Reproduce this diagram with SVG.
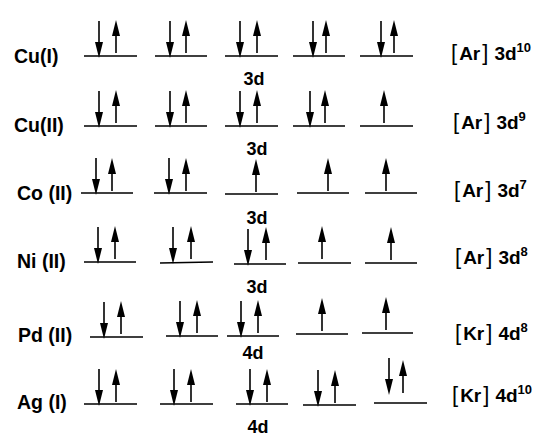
<svg xmlns="http://www.w3.org/2000/svg" xmlns:xlink="http://www.w3.org/1999/xlink" width="543" height="437" viewBox="0 0 543 437">
<style>
text{font-family:"Liberation Sans",Arial,sans-serif;font-weight:bold;fill:#000}
.lbl{font-size:19.5px}
.sub{font-size:18px;text-anchor:middle}
.cfg{font-size:19px}
.br{font-weight:normal;font-size:22px}
.sup{font-size:13px}
.lv{stroke:#000;stroke-width:1.6;fill:none}
</style>
<defs>
<g id="dn"><line x1="0" y1="0" x2="0" y2="24" stroke="#000" stroke-width="1.6"/><polygon points="-4,21 4,21 0,37" fill="#000"/></g>
<g id="up"><line x1="0" y1="12" x2="0" y2="33" stroke="#000" stroke-width="1.6"/><polygon points="0,0 -4,16 4,16" fill="#000"/></g>
</defs>
<rect width="543" height="437" fill="#fff"/>

<g id="cu1">
<text class="lbl" x="14" y="63">Cu(I)</text>
<path class="lv" d="M84 56H137M155 56H207M225 56H278M293 56H345M360 56H413"/>
<use xlink:href="#dn" x="99" y="21"/><use xlink:href="#up" x="116" y="20"/>
<use xlink:href="#dn" x="170" y="21"/><use xlink:href="#up" x="186" y="20"/>
<use xlink:href="#dn" x="240" y="21"/><use xlink:href="#up" x="257" y="20"/>
<use xlink:href="#dn" x="313" y="21"/><use xlink:href="#up" x="326" y="20"/>
<use xlink:href="#dn" x="381" y="21"/><use xlink:href="#up" x="394" y="20"/>
<text class="sub" x="254" y="85">3d</text>
<text class="cfg" x="451" y="60"><tspan class="br">[</tspan><tspan dx="2">Ar</tspan><tspan class="br" dx="2">]</tspan><tspan dx="6">3d</tspan><tspan class="sup" dy="-8">10</tspan></text>
</g>

<g id="cu2">
<text class="lbl" x="14" y="132">Cu(II)</text>
<path class="lv" d="M84 126H137M155 126H207M225 126H278M293 126H345M360 126H413"/>
<use xlink:href="#dn" x="99" y="91"/><use xlink:href="#up" x="116" y="90"/>
<use xlink:href="#dn" x="170" y="91"/><use xlink:href="#up" x="186" y="90"/>
<use xlink:href="#dn" x="240" y="91"/><use xlink:href="#up" x="257" y="90"/>
<use xlink:href="#dn" x="310" y="91"/><use xlink:href="#up" x="325" y="90"/>
<use xlink:href="#up" x="384" y="90"/>
<text class="sub" x="257" y="155">3d</text>
<text class="cfg" x="453" y="129"><tspan class="br">[</tspan><tspan dx="2">Ar</tspan><tspan class="br" dx="2">]</tspan><tspan dx="6">3d</tspan><tspan class="sup" dy="-8">9</tspan></text>
</g>

<g id="co2">
<text class="lbl" x="17" y="200">Co (II)</text>
<path class="lv" d="M81 193H133M154 193H207M225 194H278M297 193H349M365 193H417"/>
<use xlink:href="#dn" x="96" y="158"/><use xlink:href="#up" x="112" y="158"/>
<use xlink:href="#dn" x="169" y="158"/><use xlink:href="#up" x="186" y="158"/>
<use xlink:href="#up" x="256" y="159"/>
<use xlink:href="#up" x="328" y="158"/>
<use xlink:href="#up" x="386" y="158"/>
<text class="sub" x="257" y="224">3d</text>
<text class="cfg" x="454" y="197"><tspan class="br">[</tspan><tspan dx="2">Ar</tspan><tspan class="br" dx="2">]</tspan><tspan dx="6">3d</tspan><tspan class="sup" dy="-8">7</tspan></text>
</g>

<g id="ni2">
<text class="lbl" x="17" y="268">Ni (II)</text>
<path class="lv" d="M84 262H136M160 263L213 262M234 264H286M298 263H351M365 263H417"/>
<use xlink:href="#dn" x="98" y="227"/><use xlink:href="#up" x="115" y="226"/>
<use xlink:href="#dn" x="173" y="227"/><use xlink:href="#up" x="191" y="226"/>
<use xlink:href="#dn" x="248" y="229"/><use xlink:href="#up" x="266" y="227"/>
<use xlink:href="#up" x="322" y="226"/>
<use xlink:href="#up" x="391" y="227"/>
<text class="sub" x="257" y="293">3d</text>
<text class="cfg" x="455" y="264"><tspan class="br">[</tspan><tspan dx="2">Ar</tspan><tspan class="br" dx="2">]</tspan><tspan dx="6">3d</tspan><tspan class="sup" dy="-8">8</tspan></text>
</g>

<g id="pd2">
<text class="lbl" x="18" y="342">Pd (II)</text>
<path class="lv" d="M90 337H143M166 336H218M227 336H279M296 334H348M362 333H413"/>
<use xlink:href="#dn" x="104" y="302"/><use xlink:href="#up" x="121" y="301"/>
<use xlink:href="#dn" x="180" y="301"/><use xlink:href="#up" x="197" y="300"/>
<use xlink:href="#dn" x="241" y="301"/><use xlink:href="#up" x="258" y="300"/>
<use xlink:href="#up" x="322" y="298"/>
<use xlink:href="#up" x="386" y="297"/>
<text class="sub" x="253" y="359">4d</text>
<text class="cfg" x="455" y="340"><tspan class="br">[</tspan><tspan dx="2">Kr</tspan><tspan class="br" dx="2">]</tspan><tspan dx="6">4d</tspan><tspan class="sup" dy="-8">8</tspan></text>
</g>

<g id="ag1">
<text class="lbl" x="17" y="409">Ag (I)</text>
<path class="lv" d="M84 404H137M160 404H213M236 404H288M303 405H356M374 403H427"/>
<use xlink:href="#dn" x="99" y="369"/><use xlink:href="#up" x="116" y="369"/>
<use xlink:href="#dn" x="174" y="369"/><use xlink:href="#up" x="191" y="369"/>
<use xlink:href="#dn" x="250" y="369"/><use xlink:href="#up" x="267" y="369"/>
<use xlink:href="#dn" x="318" y="370"/><use xlink:href="#up" x="335" y="370"/>
<use xlink:href="#dn" x="389" y="358"/><use xlink:href="#up" x="403" y="360"/>
<text class="sub" x="258" y="433">4d</text>
<text class="cfg" x="452" y="402"><tspan class="br">[</tspan><tspan dx="2">Kr</tspan><tspan class="br" dx="2">]</tspan><tspan dx="6">4d</tspan><tspan class="sup" dy="-8">10</tspan></text>
</g>

<g id="connectors"/>
</svg>
